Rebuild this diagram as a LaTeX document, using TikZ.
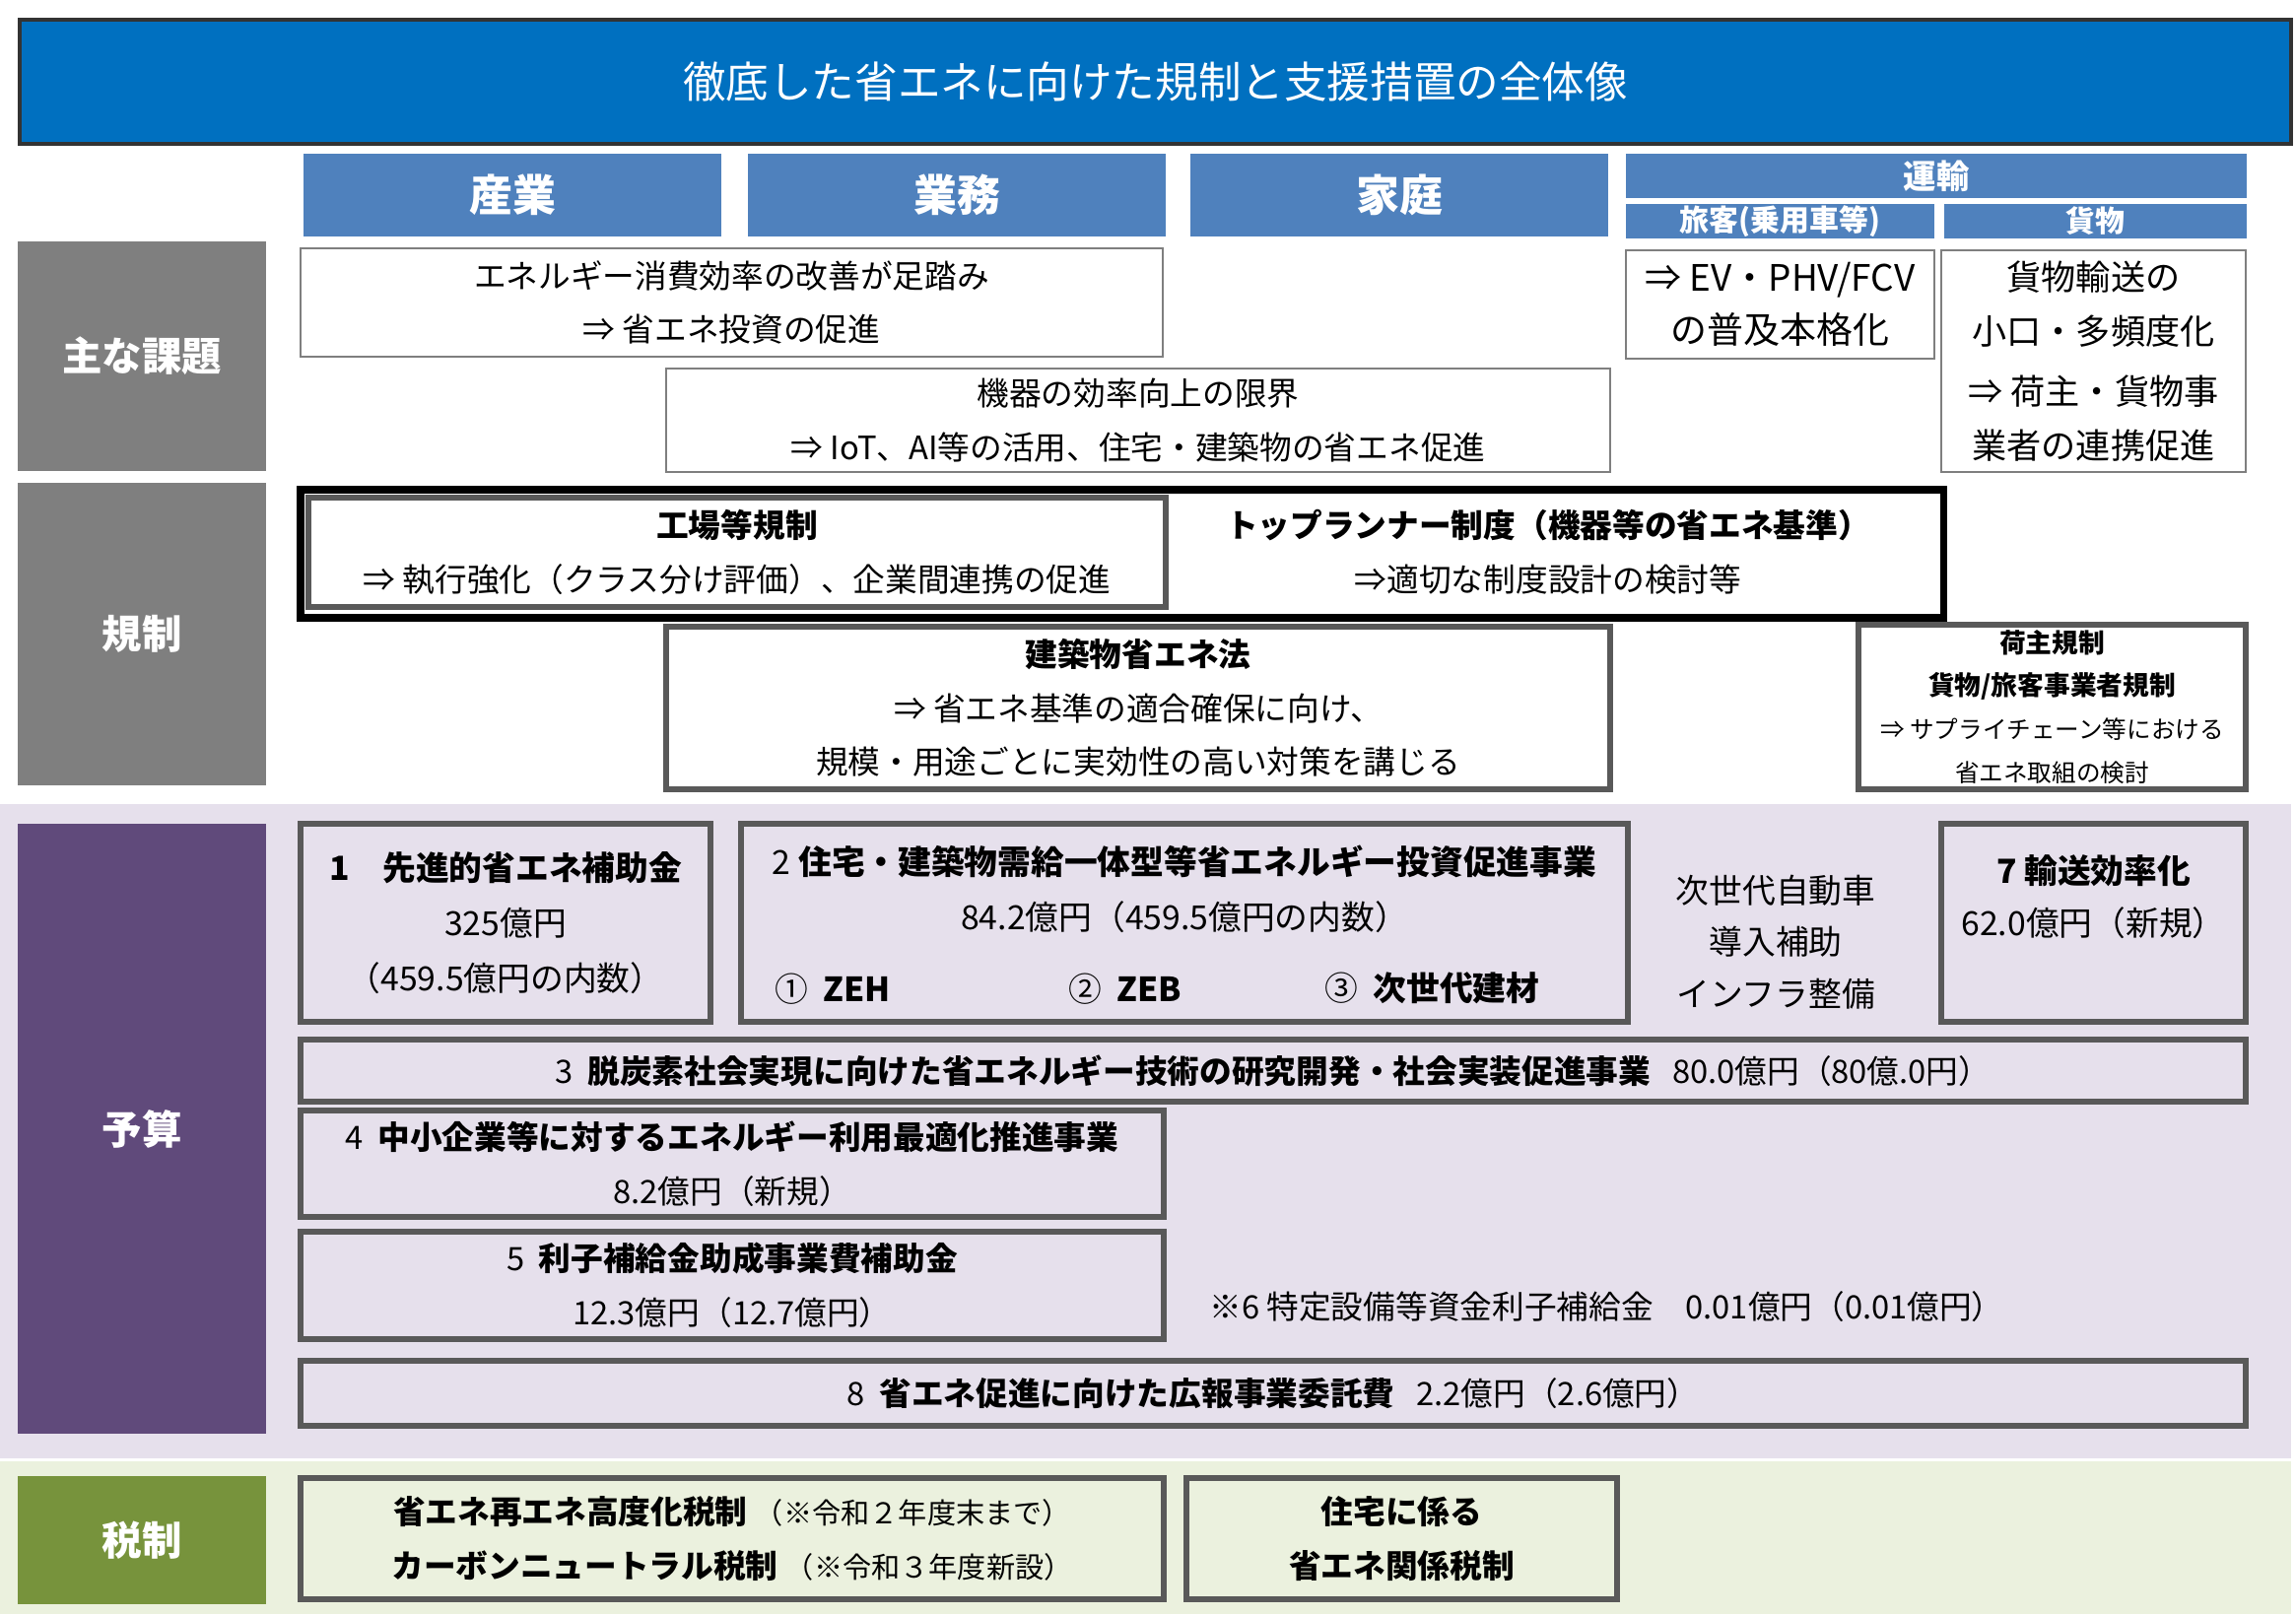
\documentclass[tikz,border=0pt]{standalone}
\usepackage{fontspec}
\setmainfont{Noto Sans CJK JP}
\usetikzlibrary{positioning}
\definecolor{titleblue}{HTML}{0070C0}
\definecolor{headblue}{HTML}{4F81BD}
\definecolor{sidegray}{HTML}{7F7F7F}
\definecolor{sidepurple}{HTML}{604A7B}
\definecolor{sidegreen}{HTML}{77933C}
\definecolor{bandlav}{HTML}{E6E0EC}
\definecolor{bandgreen}{HTML}{EBF1DE}
\definecolor{boxgray}{HTML}{595959}
\newcommand{\bodyfont}{\fontsize{9.3}{15.5}\selectfont}
\tikzset{
  headbox/.style={fill=headblue, text=white, inner sep=0pt, font=\bfseries\fontsize{12.5}{14}\selectfont},
  subhead/.style={headbox, font=\bfseries\fontsize{8.5}{10}\selectfont},
  sidebox/.style={text=white, inner sep=0pt, minimum width=2.52cm, font=\bfseries\fontsize{11.5}{14}\selectfont},
  thinbox/.style={draw=sidegray, line width=0.8pt, fill=white, align=center, inner sep=1pt, font=\bodyfont},
  regbox/.style={draw=boxgray, line width=1.8pt, fill=white, align=center, inner sep=1pt, font=\bodyfont},
  budbox/.style={draw=boxgray, line width=1.5pt, align=center, inner sep=1pt, font=\bodyfont},
}
\begin{document}
\begin{tikzpicture}[x=1cm, y=-1cm]
  \useasboundingbox (0,0) rectangle (23.30,16.40);
  % background bands
  \fill[bandlav] (0,8.16) rectangle (23.25,14.80);
  \fill[bandgreen] (0,14.83) rectangle (23.25,16.38);
  % title
  \node[draw=black!80, line width=1.2pt, fill=titleblue, text=white, minimum width=23.05cm, minimum height=1.26cm,
    font=\fontsize{12.4}{14}\selectfont] (title) at (11.725,0.83) {徹底した省エネに向けた規制と支援措置の全体像};
  % column heads
  \node[headbox, minimum width=4.24cm, minimum height=0.84cm] (ind) at (5.20,1.98) {産業};
  \node[headbox, minimum width=4.24cm, minimum height=0.84cm] (bus) at (9.71,1.98) {業務};
  \node[headbox, minimum width=4.24cm, minimum height=0.84cm] (home) at (14.20,1.98) {家庭};
  \node[subhead, minimum width=6.30cm, minimum height=0.45cm, font=\bfseries\fontsize{9.5}{10}\selectfont] (trans) at (19.65,1.785) {運輸};
  \node[subhead, minimum width=3.13cm, minimum height=0.35cm] (pass) at (18.065,2.245) {旅客(乗用車等)};
  \node[subhead, minimum width=3.07cm, minimum height=0.35cm] (frt) at (21.265,2.245) {貨物};
  % side labels
  \node[sidebox, fill=sidegray, minimum height=2.33cm] (issue) at (1.44,3.615) {主な課題};
  \node[sidebox, fill=sidegray, minimum height=3.07cm] (rule) at (1.44,6.435) {規制};
  \node[sidebox, fill=sidepurple, minimum height=6.19cm] (budget) at (1.44,11.455) {予算};
  \node[sidebox, fill=sidegreen, minimum height=1.30cm] (tax) at (1.44,15.63) {税制};
  % issues
  \node[thinbox, minimum width=8.75cm, minimum height=1.10cm] (iss1) at (7.425,3.07) {エネルギー消費効率の改善が足踏み\\⇒ 省エネ投資の促進};
  \node[thinbox, minimum width=9.58cm, minimum height=1.05cm] (iss2) at (11.55,4.265) {機器の効率向上の限界\\⇒ IoT、AI等の活用、住宅・建築物の省エネ促進};
  \node[thinbox, minimum width=3.13cm, minimum height=1.10cm, font=\fontsize{10.5}{15}\selectfont] (iss3) at (18.065,3.09) {⇒ EV・PHV/FCV\\の普及本格化};
  \node[thinbox, minimum width=3.09cm, minimum height=2.25cm, font=\fontsize{10}{15.5}\selectfont] (iss4) at (21.245,3.665) {貨物輸送の\\小口・多頻度化\\[2pt]⇒ 荷主・貨物事\\業者の連携促進};
  % regulation
  \draw[line width=2pt] (3.05,4.97) rectangle (19.72,6.27);
  \node[regbox, minimum width=8.70cm, minimum height=1.11cm] (reg1) at (7.48,5.605) {\textbf{工場等規制}\\⇒ 執行強化（クラス分け評価）、企業間連携の促進};
  \node[align=center, font=\bodyfont] (reg2) at (15.71,5.60) {\textbf{トップランナー制度（機器等の省エネ基準）}\\⇒適切な制度設計の検討等};
  \node[regbox, minimum width=9.58cm, minimum height=1.65cm] (reg3) at (11.55,7.185) {\textbf{建築物省エネ法}\\⇒ 省エネ基準の適合確保に向け、\\規模・用途ごとに実効性の高い対策を講じる};
  \node[regbox, minimum width=3.93cm, minimum height=1.67cm, font=\fontsize{7.6}{12.5}\selectfont] (reg4) at (20.825,7.175) {\textbf{荷主規制}\\\textbf{貨物/旅客事業者規制}\\{\fontsize{7}{12.5}\selectfont ⇒ サプライチェーン等における}\\{\fontsize{7}{10}\selectfont 省エネ取組の検討}};
  % budget
  \node[budbox, minimum width=4.16cm, minimum height=2.01cm, font=\fontsize{9.6}{16}\selectfont] (bud1) at (5.13,9.365) {\textbf{1\quad 先進的省エネ補助金}\\325億円\\（459.5億円の内数）};
  \node[budbox, minimum width=9.00cm, minimum height=2.01cm] (bud2) at (12.02,9.365) {};
  \node[align=center, font=\fontsize{9.6}{16}\selectfont, below=0.12cm of bud2.north] (bud2t) {2\ \textbf{住宅・建築物需給一体型等省エネルギー投資促進事業}\\84.2億円（459.5億円の内数）};
  \node[font=\fontsize{9.6}{12}\selectfont, above right=0.08cm and 0.25cm of bud2.south west] (zeh) {①\ \ \textbf{ZEH}};
  \node[font=\fontsize{9.6}{12}\selectfont, above=0.08cm of bud2.south, xshift=-0.6cm] (zeb) {②\ \ \textbf{ZEB}};
  \node[font=\fontsize{9.6}{12}\selectfont, above left=0.08cm and 0.8cm of bud2.south east] (mat) {③\ \ \textbf{次世代建材}};
  \node[align=center, font=\fontsize{9.6}{15}\selectfont] (nextcar) at (18.02,9.56) {次世代自動車\\導入補助\\インフラ整備};
  \node[budbox, minimum width=3.09cm, minimum height=2.01cm] (bud7) at (21.245,9.365) {};
  \node[align=center, font=\fontsize{9.6}{15}\selectfont, below=0.22cm of bud7.north] (bud7t) {\textbf{7 輸送効率化}\\62.0億円（新規）};
  \node[budbox, minimum width=19.74cm, minimum height=0.63cm] (bud3) at (12.92,10.865) {3\ \ \textbf{脱炭素社会実現に向けた省エネルギー技術の研究開発・社会実装促進事業}\ \ \ 80.0億円（80億.0円）};
  \node[budbox, minimum width=8.76cm, minimum height=1.08cm] (bud4) at (7.43,11.81) {4\ \ \textbf{中小企業等に対するエネルギー利用最適化推進事業}\\8.2億円（新規）};
  \node[budbox, minimum width=8.76cm, minimum height=1.09cm] (bud5) at (7.43,13.045) {5\ \ \textbf{利子補給金助成事業費補助金}\\12.3億円（12.7億円）};
  \node[anchor=west, font=\bodyfont] (bud6) at (12.15,13.26) {※6 特定設備等資金利子補給金\quad 0.01億円（0.01億円）};
  \node[budbox, minimum width=19.74cm, minimum height=0.66cm] (bud8) at (12.92,14.14) {8\ \ \textbf{省エネ促進に向けた広報事業委託費}\ \ \ 2.2億円（2.6億円）};
  % tax
  \node[budbox, minimum width=8.76cm, minimum height=1.23cm] (tax1) at (7.43,15.615) {\textbf{省エネ再エネ高度化税制}\ {\fontsize{8.3}{15}\selectfont（※令和２年度末まで）}\\\textbf{カーボンニュートラル税制}\ {\fontsize{8.3}{15}\selectfont（※令和３年度新設）}};
  \node[budbox, minimum width=4.37cm, minimum height=1.23cm] (tax2) at (14.225,15.615) {\textbf{住宅に係る}\\\textbf{省エネ関係税制}};
\end{tikzpicture}
\end{document}
